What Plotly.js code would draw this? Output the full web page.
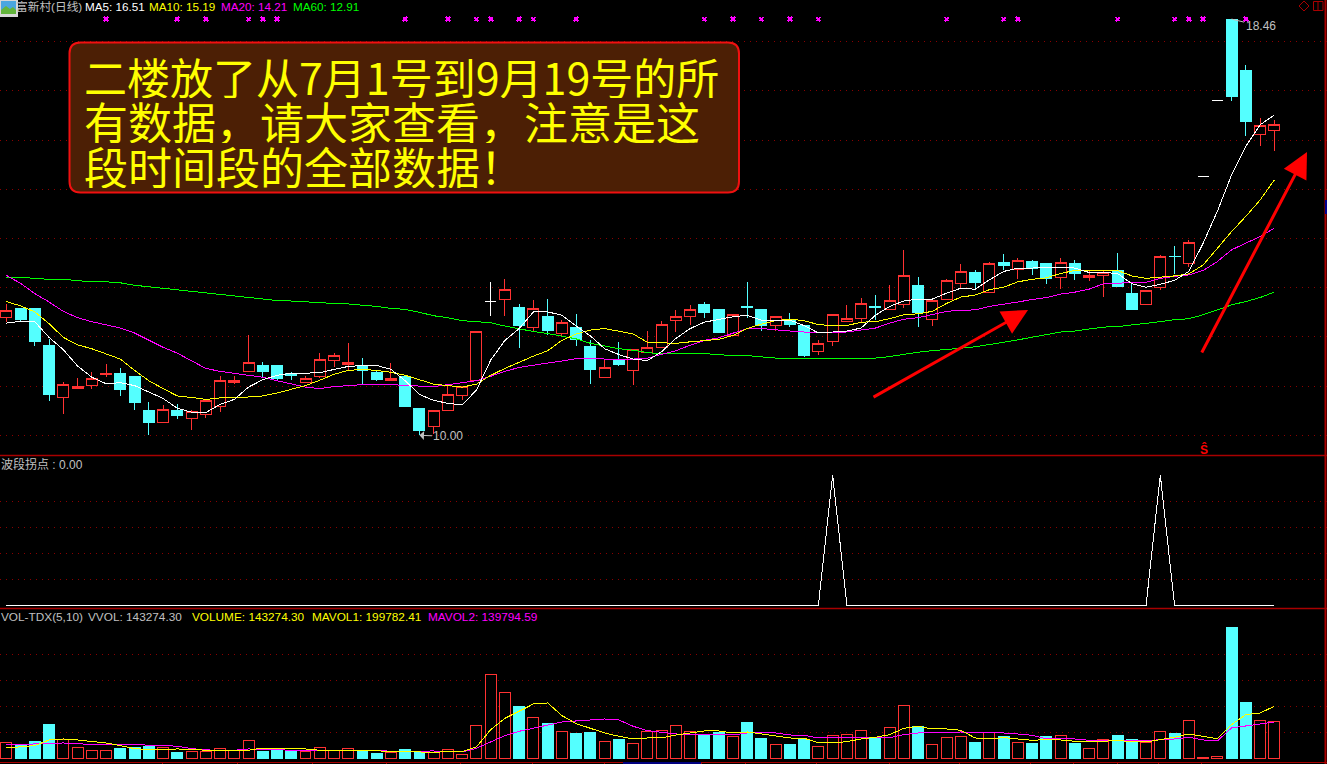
<!DOCTYPE html>
<html><head><meta charset="utf-8">
<script src="https://cdn.plot.ly/plotly-3.0.1.min.js"></script>
<style>html,body{margin:0;padding:0;background:#000;overflow:hidden}#c{width:1327px;height:764px}
#c .cartesianlayer path{shape-rendering:crispEdges !important}</style>
</head><body><div id="c"></div>
<script>
const open_ = [12.39,12.57,12.57,11.83,10.77,10.95,11.01,11.23,11.26,11.20,10.51,10.26,10.51,10.34,10.42,10.59,11.07,11.29,11.41,11.41,11.26,11.07,11.19,11.52,11.43,11.42,11.28,11.12,11.20,10.55,
 10.18,10.50,10.80,11.11,12.72,12.76,12.60,12.20,12.42,12.06,12.20,11.81,11.17,11.55,11.31,11.69,11.78,12.33,12.41,12.65,12.56,12.02,12.62,12.56,12.23,12.35,12.24,11.70,11.90,12.31,
 12.37,12.62,12.56,12.66,13.04,12.35,12.76,13.08,13.31,12.90,13.52,13.38,13.54,13.50,13.21,13.50,13.21,13.25,13.36,12.89,12.66,13.01,13.64,13.49,15.27,16.80,18.46,17.41,16.11,16.19];
const high_ = [12.67,12.59,12.57,11.96,11.08,11.16,11.28,11.45,11.37,11.20,10.67,10.61,10.63,10.51,10.71,11.20,11.20,12.03,11.49,11.42,11.28,11.20,11.67,11.68,11.87,11.57,11.32,11.47,11.20,10.55,
 10.50,11.04,10.99,12.11,13.11,13.17,12.67,12.75,12.77,12.35,12.46,11.93,11.56,11.89,11.76,12.12,12.32,12.54,12.65,12.71,12.56,12.46,13.11,12.56,12.41,12.48,12.24,11.93,12.46,12.65,
 12.79,12.85,13.06,13.77,13.22,12.75,13.17,13.48,13.36,13.53,13.69,13.61,13.57,13.50,13.61,13.57,13.33,13.35,13.71,13.08,12.95,13.66,13.84,13.97,15.27,16.80,18.46,17.53,16.45,16.40];
const low_ = [12.30,12.31,11.82,10.70,10.44,10.94,10.95,11.19,10.80,10.52,10.01,10.26,10.34,10.11,10.36,10.48,11.05,11.29,11.19,11.13,11.12,11.07,11.17,11.39,11.31,11.04,11.11,11.11,10.57,10.00,
 10.02,10.50,10.72,11.11,12.43,12.43,11.78,12.12,12.04,11.99,11.81,11.04,11.17,11.41,11.02,11.69,11.78,12.10,12.24,12.38,12.08,12.02,12.38,12.12,12.12,12.20,11.60,11.63,11.81,12.31,
 12.29,12.35,12.56,12.59,12.21,12.22,12.76,12.98,12.98,12.90,13.36,13.18,13.26,13.08,12.98,13.16,13.14,12.82,13.01,12.54,12.64,12.96,13.28,13.42,15.27,16.80,16.80,16.09,15.89,15.78];
const close_ = [12.54,12.36,11.90,10.82,11.03,11.00,11.16,11.26,10.93,10.66,10.27,10.53,10.40,10.48,10.71,11.11,11.11,11.48,11.29,11.15,11.22,11.16,11.54,11.62,11.48,11.31,11.13,11.16,10.58,10.09,
 10.50,10.83,10.99,12.11,12.72,12.96,12.23,12.58,12.14,12.29,11.95,11.34,11.38,11.43,11.74,11.78,12.25,12.41,12.56,12.50,12.08,12.46,12.59,12.23,12.41,12.26,11.63,11.87,12.46,12.37,
 12.68,12.60,12.75,13.25,12.49,12.75,13.15,13.33,13.10,13.50,13.46,13.56,13.40,13.19,13.52,13.28,13.24,13.31,13.02,12.55,12.95,13.64,13.63,13.92,15.27,16.80,16.89,16.38,16.29,16.32];
const whiteCandles = [34,84,85];

const ma5 = [12.28,12.32,12.31,11.99,11.74,11.41,11.18,11.05,11.07,11.01,10.88,10.75,10.55,10.47,10.46,10.63,10.73,10.98,11.13,11.22,11.26,11.26,11.27,11.34,11.40,11.42,11.42,11.34,11.11,10.83,
 10.71,10.65,10.62,10.92,11.53,11.93,12.17,12.51,12.51,12.44,12.22,12.02,11.76,11.64,11.55,11.52,11.70,11.97,12.17,12.30,12.35,12.41,12.44,12.34,12.34,12.34,12.23,12.08,12.10,12.12,
 12.18,12.44,12.62,12.73,12.77,12.77,12.89,12.99,12.97,13.16,13.33,13.40,13.40,13.41,13.42,13.40,13.31,13.31,13.29,13.08,13.01,13.07,13.15,13.33,13.90,14.55,15.29,15.87,16.31,16.51];
const ma10 = [12.72,12.63,12.51,12.27,11.99,11.84,11.76,11.66,11.55,11.32,11.11,10.95,10.80,10.77,10.73,10.76,10.76,10.78,10.80,10.86,10.93,11.01,11.12,11.24,11.32,11.34,11.32,11.28,11.22,11.13,
 11.04,11.01,10.98,11.04,11.22,11.36,11.49,11.61,11.72,11.93,12.06,12.14,12.17,12.11,12.06,11.89,11.88,11.87,11.90,11.93,11.95,12.03,12.17,12.26,12.33,12.36,12.33,12.25,12.23,12.23,
 12.30,12.31,12.37,12.45,12.47,12.52,12.68,12.81,12.85,12.96,13.01,13.12,13.17,13.20,13.29,13.35,13.36,13.36,13.35,13.24,13.19,13.21,13.24,13.28,13.46,13.80,14.14,14.45,14.78,15.19];
const ma20 = [13.25,13.09,12.88,12.71,12.52,12.39,12.31,12.25,12.18,12.08,11.93,11.79,11.67,11.51,11.36,11.30,11.26,11.23,11.18,11.11,11.04,10.98,10.95,10.99,11.01,11.03,11.03,11.03,11.02,11.00,
 10.99,11.03,11.07,11.11,11.20,11.30,11.38,11.43,11.47,11.51,11.56,11.57,11.55,11.55,11.55,11.57,11.65,11.72,11.83,11.93,11.98,12.08,12.17,12.17,12.14,12.12,12.10,12.08,12.09,12.10,
 12.14,12.18,12.28,12.36,12.39,12.45,12.52,12.54,12.55,12.62,12.66,12.71,12.76,12.80,12.87,12.91,12.97,13.08,13.09,13.11,13.11,13.19,13.23,13.26,13.35,13.53,13.77,13.90,14.04,14.21];
const ma60 = [13.21,13.21,13.19,13.17,13.17,13.14,13.12,13.12,13.10,13.05,13.02,12.99,12.96,12.92,12.89,12.86,12.83,12.80,12.77,12.74,12.73,12.71,12.69,12.68,12.67,12.65,12.62,12.58,12.56,12.50,
 12.43,12.39,12.33,12.31,12.29,12.22,12.16,12.11,12.07,12.02,11.96,11.87,11.81,11.76,11.73,11.68,11.66,11.66,11.66,11.66,11.64,11.62,11.62,11.60,11.57,11.57,11.56,11.56,11.56,11.56,
 11.57,11.57,11.60,11.65,11.69,11.72,11.74,11.77,11.80,11.84,11.89,11.94,11.99,12.05,12.10,12.12,12.16,12.20,12.21,12.24,12.28,12.31,12.35,12.37,12.45,12.55,12.65,12.72,12.80,12.91];

const signalMarks = [7,12,14,17,18,19,28,31,33,34,36,37,40,49,51,53,55,57,66,70,71,78,82,83,84,87];
const signalLevel = 18.46;
const turningPeaks = [58,81];
const volume = [59000,52600,64100,129500,71800,39700,28200,28200,37200,41000,44900,39700,21800,24400,24400,35900,29500,66700,25600,33300,25600,24400,39700,28200,35900,29500,17900,20500,33300,23100,
 20500,32000,12800,124400,320500,251300,198700,155100,133300,101300,94900,98700,62800,71800,55100,101300,105100,124400,101300,88500,98700,82000,137200,75600,51300,52600,71800,43600,85900,89700,
 105100,75600,116700,201300,120500,51300,78200,82000,60300,97400,83300,59000,56400,83300,85900,56400,35900,70500,87200,71800,59000,101300,94900,143600,3000,6400,502500,214100,143600,143274];
const mavol1 = [39700,43600,48700,70500,74400,70500,65400,59000,48700,37200,33300,35900,35900,34600,30800,30800,28200,30800,39700,35900,35900,35900,30800,28200,28200,30800,28200,24400,24400,24400,
 23100,25600,25600,43600,110300,153800,180800,209000,212800,164100,133300,114100,97400,84600,74400,78200,78200,89700,97400,105100,105100,97400,101300,93600,88500,78200,76900,60300,59000,64100,
 74400,80800,91000,115400,123100,112800,112800,107700,78200,74400,79500,74400,69200,71800,70500,65400,62800,65400,69200,62800,62800,71800,80800,93600,83300,75600,129500,167900,174400,199782];
const mavol2 = [51300,53800,55100,59000,59000,55100,55100,55100,53800,53800,50000,50000,46200,37200,32100,30800,30800,35900,35900,33300,30800,30800,30800,30800,33300,32100,30800,26900,28200,28200,
 28200,25600,24400,38500,61500,87200,103800,116700,126900,139700,143600,147400,151300,147400,123100,106400,100000,93600,91000,89700,89700,89700,97400,97400,97400,89700,88500,78200,78200,78200,
 78200,78200,79500,91000,97400,97400,97400,101300,97400,97400,97400,93600,88500,74400,74400,74400,69200,69200,69200,66700,66700,71800,74400,80800,70500,66700,116700,124400,132000,139795];

const priceGrid = [10,11,12,13,14,15,16,17,18];
const turnGrid = [0.2,0.4,0.6,0.8];
const volGrid = [100000,200000,300000,400000];
const dateTicks = [10.95,16.2,21.5,26.7,31.9,36.9,42,48.8,51.9,56.9,62,66.9,71.9,74.9,78,80.9,83.9];
const noticeLines = ['二楼放了从7月1号到9月19号的所','有数据，请大家查看，注意是这','段时间段的全部数据！'];
const noticeSizes = [43,44,44];

const RED='#ff3232', CYAN='#54ffff', DARK='#a80000', GRID='#8b0000', GRAY='#c0c0c0';
const W=1327,H=764, fx=p=>p/W, fy=p=>1-p/H;
const idx = open_.map((_,i)=>i);
const isWhite = i=>whiteCandles.includes(i);
const main = idx.filter(i=>!isWhite(i));
const pick=(a,s)=>s.map(i=>a[i]);
const turning = idx.map(i=>turningPeaks.includes(i)?1:0);
const up = idx.map(i=>close_[i]>=open_[i]);
const lineTrace=(y,color,ya)=>({type:'scatter',mode:'lines',x:idx,y:y,yaxis:ya||'y',line:{color:color,width:1},hoverinfo:'skip'});

const traces=[
 {type:'bar',x:idx,y:volume,yaxis:'y3',width:0.77,hoverinfo:'skip',
  marker:{color:up.map(u=>u?'#000':CYAN),line:{color:up.map(u=>u?RED:CYAN),width:1}}},
 {type:'candlestick',x:main,open:pick(open_,main),high:pick(high_,main),low:pick(low_,main),close:pick(close_,main),
  increasing:{line:{color:RED,width:1},fillcolor:'#000'},decreasing:{line:{color:CYAN,width:1},fillcolor:CYAN},hoverinfo:'skip'},
 {type:'candlestick',x:whiteCandles,open:pick(open_,whiteCandles),high:pick(high_,whiteCandles),low:pick(low_,whiteCandles),close:pick(close_,whiteCandles),
  increasing:{line:{color:'#fff',width:1},fillcolor:'#fff'},decreasing:{line:{color:'#fff',width:1},fillcolor:'#fff'},hoverinfo:'skip'},
 lineTrace(ma60,'#00ff00'),lineTrace(ma20,'#ff00ff'),lineTrace(ma10,'#ffff00'),lineTrace(ma5,'#ffffff'),
 {type:'scatter',mode:'markers',x:signalMarks,y:signalMarks.map(()=>signalLevel),marker:{symbol:'x',size:5,color:'#ff00ff',line:{width:0}},hoverinfo:'skip'},
 lineTrace(turning,'#ffffff','y2'),
 lineTrace(mavol2,'#ff00ff','y3'),lineTrace(mavol1,'#ffff00','y3')
];

const txt=(t,px,py,color,size,extra)=>Object.assign({text:t,xref:'paper',yref:'paper',x:fx(px),y:fy(py),xanchor:'left',yanchor:'middle',showarrow:false,
  borderpad:0,font:{family:'"Liberation Sans","Noto Sans CJK SC",sans-serif',size:size||11.7,color:color}},extra||{});
const arrow=(hx,hy,tx,ty)=>({text:'',xref:'paper',yref:'paper',x:fx(hx),y:fy(hy),ax:tx-hx,ay:ty-hy,showarrow:true,arrowhead:2,arrowsize:1.7,arrowwidth:3,arrowcolor:'#ff0000'});
const rr=(x0,y0,x1,y1,r)=>`M${fx(x0+r)},${fy(y0)} L${fx(x1-r)},${fy(y0)} Q${fx(x1)},${fy(y0)} ${fx(x1)},${fy(y0+r)} L${fx(x1)},${fy(y1-r)} Q${fx(x1)},${fy(y1)} ${fx(x1-r)},${fy(y1)} L${fx(x0+r)},${fy(y1)} Q${fx(x0)},${fy(y1)} ${fx(x0)},${fy(y1-r)} L${fx(x0)},${fy(y0+r)} Q${fx(x0)},${fy(y0)} ${fx(x0+r)},${fy(y0)} Z`;
const pshape=(o)=>Object.assign({xref:'paper',yref:'paper',layer:'above'},o);
const hline=(py,c,w,x0,x1)=>pshape({type:'line',x0:fx(x0||0),x1:fx(x1||W),y0:fy(py),y1:fy(py),line:{color:c,width:w||1}});
const frect=(x0,y0,x1,y1,fill,lc)=>pshape({type:'rect',x0:fx(x0),x1:fx(x1),y0:fy(y0),y1:fy(y1),fillcolor:fill,line:{color:lc||fill,width:lc?1:0}});

const shapes=[
 hline(455.5,DARK,1.5),hline(608.5,DARK,1.5),
 pshape({type:'line',x0:fx(1325.5),x1:fx(1325.5),y0:0,y1:1,line:{color:DARK,width:2}}),
 frect(1325,200,1327,214,'#000090'),
 frect(623,762,701,764,'#000080'),
 pshape({type:'path',path:rr(69.5,42.5,739,192.5,11),fillcolor:'#4c1f05',line:{color:'#f01010',width:2}}),
 pshape({type:'path',path:`M${fx(1304)},${fy(1)} L${fx(1309)},${fy(6)} L${fx(1304)},${fy(11)} L${fx(1299)},${fy(6)} Z`,line:{color:DARK,width:1}}),
 frect(1313.5,1.5,1323,10.5,'rgba(0,0,0,0)',DARK),
 pshape({type:'line',x0:fx(1318),x1:fx(1318),y0:fy(1.5),y1:fy(10.5),line:{color:DARK,width:1}}),
 frect(0,0,18,17,'#d8d8d8'),
 frect(1,1,16,14,'#4aa6e0'),
 pshape({type:'path',path:`M${fx(1)},${fy(14)} L${fx(1)},${fy(10)} L${fx(6)},${fy(6)} L${fx(10)},${fy(9)} L${fx(13)},${fy(7)} L${fx(16)},${fy(10)} L${fx(16)},${fy(14)} Z`,fillcolor:'#63b53c',line:{width:0}})
];

const annotations=[
 txt('富新村(日线)',15,6.5,GRAY),
 txt('MA5: 16.51',83.5,6.5,'#ffffff'),
 txt('MA10: 15.19',148,6.5,'#ffff00'),
 txt('MA20: 14.21',220,6.5,'#ff00ff'),
 txt('MA60: 12.91',292,6.5,'#00ff00'),
 txt('波段拐点 : 0.00',0,464,GRAY,12),
 txt('VOL-TDX(5,10)',0,617,GRAY,11.8),
 txt('VVOL: 143274.30',87,617,GRAY,11.8),
 txt('VOLUME: 143274.30',191,617,'#ffff00',11.8),
 txt('MAVOL1: 199782.41',311,617,'#ffff00',11.8),
 txt('MAVOL2: 139794.59',427,617,'#ff00ff',11.8),
 {text:'18.46',x:86,y:18.46,xref:'x',yref:'y',ax:29,ay:7,showarrow:true,arrowhead:0,arrowwidth:1,arrowcolor:GRAY,font:{family:'"Liberation Sans",sans-serif',size:12,color:GRAY}},
 {text:'10.00',x:29,y:10,xref:'x',yref:'y',ax:29,ay:1,showarrow:true,arrowhead:1,arrowsize:1.5,arrowwidth:1,arrowcolor:GRAY,font:{family:'"Liberation Sans",sans-serif',size:12,color:GRAY}},
 txt('<b>Ŝ</b>',1198.5,449.5,'#ff0000',12),
 arrow(1028,310,872,398),
 arrow(1307,152,1201,354)
];
noticeLines.forEach((t,i)=>annotations.push({text:t,xref:'paper',yref:'paper',x:fx(82),y:fy(76.5+i*44.5),xanchor:'left',yanchor:'middle',showarrow:false,height:44,
  font:{family:'"Noto Sans CJK SC",sans-serif',size:noticeSizes[i],color:'#ffff00'}}));

const yCommon={showline:false,zeroline:false,showticklabels:false,ticks:'',showgrid:true,gridcolor:GRID,gridwidth:1,griddash:'1px,5px',tickmode:'array',anchor:'x',fixedrange:true};
const layout={
 width:W,height:H,margin:{l:0,r:0,t:0,b:0,pad:0},paper_bgcolor:'#000',plot_bgcolor:'#000',showlegend:false,
 barmode:'overlay',boxmode:'overlay',boxgap:0.228,boxgroupgap:0,hovermode:false,
 xaxis:{anchor:'y3',domain:[0,1],range:[-0.444,92.7],type:'linear',rangeslider:{visible:false},showgrid:false,zeroline:false,showticklabels:false,
   tickmode:'array',tickvals:dateTicks,ticks:'outside',ticklen:3,tickcolor:DARK,tickwidth:1,showline:true,linecolor:DARK,linewidth:1,fixedrange:true},
 yaxis:Object.assign({},yCommon,{domain:[(H-455)/H,1],range:[9.6,18.848],tickvals:priceGrid}),
 yaxis2:Object.assign({},yCommon,{domain:[(H-608.5)/H,(H-456)/H],range:[-0.0246,1.1467],tickvals:turnGrid}),
 yaxis3:Object.assign({},yCommon,{domain:[(H-761.5)/H,(H-609)/H],range:[-12300,574200],tickvals:volGrid}),
 shapes:shapes,annotations:annotations
};
Plotly.newPlot('c',traces,layout,{staticPlot:true,displayModeBar:false});
</script></body></html>
